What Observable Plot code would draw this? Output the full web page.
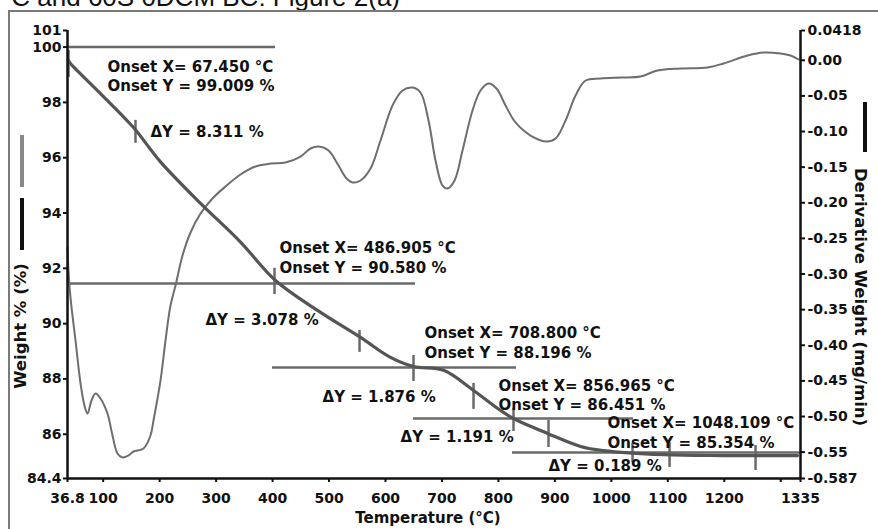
<!DOCTYPE html>
<html><head><meta charset="utf-8">
<script src="https://cdn.jsdelivr.net/npm/d3@7"></script>
<script src="https://cdn.jsdelivr.net/npm/@observablehq/plot@0.6"></script>
<style>
body{margin:0;background:#fff;}
#wrap{position:relative;width:878px;height:529px;overflow:hidden;background:#fff;font-family:"DejaVu Sans",sans-serif;}
#chart{position:absolute;left:0;top:0;}
.frame{position:absolute;left:8px;top:10px;width:900px;height:600px;border-top:2px solid #7a7a7a;border-left:2px solid #7a7a7a;}
.title{position:absolute;right:478px;top:-16px;font:26px/26px "Liberation Sans",Arial,sans-serif;white-space:nowrap;color:#111;}
.lab{position:absolute;font-weight:bold;font-size:15px;line-height:15px;white-space:nowrap;color:#111;}
.vlab{font-size:16.5px;line-height:16.5px;}
.bar{position:absolute;width:4px;}
</style></head><body>
<div id="wrap">
<div class="title">°C and 60S 0DCM BC: Figure 2(a)</div>
<div class="frame"></div>
<div id="chart"></div>
<div class="bar" style="left:20px;top:135px;height:52px;background:#8a8a8a"></div>
<div class="bar" style="left:20px;top:198px;height:52px;background:#111"></div>
<div class="bar" style="left:863px;top:102px;height:50px;background:#111"></div>
<div class="lab vlab" id="ylabL" style="left:21px;top:326px;transform:translate(-50%,-50%) rotate(-90deg)">Weight % (%)</div>
<div class="lab vlab" id="ylabR" style="left:860px;top:297px;transform:translate(-50%,-50%) rotate(90deg)">Derivative Weight (mg/min)</div>
<div class="lab" id="xlab" style="left:428px;top:511px;transform:translateX(-50%)">Temperature (°C)</div>
</div>
<script>
// ---- axes ----
const xDomain = [36.8, 1335];
const xTicks = [36.8, 100, 200, 300, 400, 500, 600, 700, 800, 900, 1000, 1100, 1200, 1300, 1335];
const xTickLabels = ["36.8", "100", "200", "300", "400", "500", "600", "700", "800", "900", "1000", "1100", "1200", "", "1335"];
const wDomain = [84.4, 100.6];
const wTicks = [84.4, 86, 88, 90, 92, 94, 96, 98, 100, 100.6];
const wTickLabels = ["84.4", "86", "88", "90", "92", "94", "96", "98", "100", "101"];
const dDomain = [-0.587, 0.0418];
const dTicks = [0.0418, 0.00, -0.05, -0.10, -0.15, -0.20, -0.25, -0.30, -0.35, -0.40, -0.45, -0.50, -0.55, -0.587];
const dTickLabels = ["0.0418", "0.00", "-0.05", "-0.10", "-0.15", "-0.20", "-0.25", "-0.30", "-0.35", "-0.40", "-0.45", "-0.50", "-0.55", "-0.587"];

// ---- weight curve (Temperature °C, Weight %) ----
const weightT = [38.6, 42.1, 95.2, 153.7, 201.5, 272.4, 343.2, 405.2, 479.6, 555.8, 608.9, 649.6, 702.8, 755.9, 803.7, 826.7, 887.0, 945.4, 986.2, 1092.5, 1200, 1329.8];
const weightW = [99.52, 99.41, 98.32, 97.09, 95.85, 94.35, 92.95, 91.56, 90.48, 89.50, 88.78, 88.45, 88.31, 87.58, 86.86, 86.57, 86.03, 85.56, 85.41, 85.26, 85.23, 85.23];

// ---- derivative curve (Temperature °C, mg/min) ----
const derivT = [36.8, 38.6, 42.1, 51.0, 59.9, 66.9, 72.2, 79.3, 86.4, 95.2, 107.6, 116.5, 125.3, 134.2, 144.8, 153.7, 171.4, 183.8, 189.1, 201.5, 210.4, 219.2, 228.1, 240.5, 254.7, 272.4, 293.6, 316.6, 343.2, 369.8, 396.4, 422.9, 449.5, 467.2, 481.4, 499.1, 516.8, 531.0, 541.6, 555.8, 573.5, 591.2, 612.4, 630.2, 647.9, 662.0, 676.2, 688.6, 701.0, 709.9, 722.3, 736.4, 754.1, 768.3, 782.5, 796.6, 812.6, 830.3, 856.9, 885.2, 901.2, 918.9, 936.6, 954.3, 980.9, 1016.3, 1051.7, 1081.8, 1122.5, 1170.4, 1198.7, 1241.2, 1269.5, 1299.6, 1317.4, 1331.5];
const derivD = [-0.2628, -0.2951, -0.3330, -0.3933, -0.4537, -0.4846, -0.4958, -0.4775, -0.4677, -0.4747, -0.4958, -0.5266, -0.5519, -0.5575, -0.5547, -0.5491, -0.5449, -0.5266, -0.5056, -0.4495, -0.3933, -0.3442, -0.3161, -0.2740, -0.2417, -0.2151, -0.1940, -0.1772, -0.1603, -0.1491, -0.1449, -0.1435, -0.1351, -0.1238, -0.1210, -0.1266, -0.1477, -0.1659, -0.1715, -0.1687, -0.1519, -0.1126, -0.0635, -0.0424, -0.0382, -0.0452, -0.0845, -0.1407, -0.1758, -0.1800, -0.1687, -0.1266, -0.0705, -0.0424, -0.0326, -0.0396, -0.0635, -0.0873, -0.1056, -0.1140, -0.1098, -0.0845, -0.0494, -0.0284, -0.0256, -0.0242, -0.0228, -0.0143, -0.0115, -0.0101, -0.0045, 0.0067, 0.0109, 0.0095, 0.0067, 0.0011];

// ---- onset baselines ----
const onsetW = [100.0, 91.45, 88.41, 86.57, 85.34];
const onsetX1 = [36.8, 36.8, 399.9, 649.6, 825.0];
const onsetX2 = [405.2, 653.2, 832.0, 1039.3, 1335];

// ---- step markers (vertical ticks) ----
const markT = [38.6, 157.2, 403.4, 554.0, 649.6, 755.9, 826.7, 888.7, 1037.5, 1103.1, 1255.4];
const markW1 = [99.88, 97.35, 92.00, 89.75, 88.85, 87.84, 86.93, 86.50, 85.67, 85.70, 85.59];
const markW2 = [98.90, 96.52, 91.05, 88.96, 87.91, 86.90, 86.10, 85.52, 84.98, 84.80, 84.69];

// ---- annotation texts ----
const noteText = ["Onset X= 67.450 °C", "Onset Y = 99.009 %", "ΔY = 8.311 %",
  "Onset X= 486.905 °C", "Onset Y = 90.580 %", "ΔY = 3.078 %",
  "Onset X= 708.800 °C", "Onset Y = 88.196 %", "ΔY = 1.876 %",
  "Onset X= 856.965 °C", "Onset Y = 86.451 %", "ΔY = 1.191 %",
  "Onset X= 1048.109 °C", "Onset Y = 85.354 %", "ΔY = 0.189 %"];
const noteT = [107.6, 107.6, 183.8, 412.3, 412.3, 281.2, 669.1, 669.1, 488.5, 800.2, 800.2, 626.6, 993.3, 993.3, 888.7];
const noteW = [99.26, 98.57, 96.91, 92.72, 91.99, 90.11, 89.64, 88.92, 87.33, 87.73, 87.04, 85.88, 86.39, 85.67, 84.83];

// derivative -> weight-axis mapping for the dual axis
const toW = d3.scaleLinear().domain(dDomain).range(wDomain);
const dTicksW = dTicks.map(toW);

const weight = weightT.map((t, i) => ({t, w: weightW[i]}));
const deriv = derivT.map((t, i) => ({t, w: toW(derivD[i])}));
const onsets = onsetW.map((w, i) => ({w, x1: onsetX1[i], x2: onsetX2[i]}));
const marks = markT.map((t, i) => ({t, y1: markW1[i], y2: markW2[i]}));
const notes = noteText.map((s, i) => ({s, t: noteT[i], w: noteW[i]}));

const chart = Plot.plot({
  width: 878, height: 529,
  marginLeft: 67, marginRight: 78, marginTop: 30, marginBottom: 51,
  style: {fontFamily: "DejaVu Sans", fontSize: "14px", fontWeight: "bold", background: "transparent", color: "#111", overflow: "visible"},
  x: {domain: xDomain},
  y: {domain: wDomain},
  marks: [
    Plot.axisX({ticks: xTicks, tickFormat: d => xTickLabels[xTicks.indexOf(d)], tickSize: 4, tickPadding: 11, label: null, strokeWidth: 2}),
    Plot.axisY({anchor: "left", ticks: wTicks, tickFormat: d => wTickLabels[wTicks.indexOf(d)], tickSize: 4, tickPadding: 2, label: null, strokeWidth: 2}),
    Plot.axisY({anchor: "right", ticks: dTicksW, tickFormat: d => dTickLabels[dTicksW.indexOf(d)], tickSize: 4, tickPadding: 3, label: null, strokeWidth: 2}),
    Plot.ruleY(onsets, {y: "w", x1: "x1", x2: "x2", stroke: "#6a6a6a", strokeWidth: 2.5}),
    Plot.ruleX(marks, {x: "t", y1: "y1", y2: "y2", stroke: "#6a6a6a", strokeWidth: 2.5}),
    Plot.line(deriv, {x: "t", y: "w", curve: "catmull-rom", stroke: "#6e6e6e", strokeWidth: 2}),
    Plot.line(weight, {x: "t", y: "w", curve: "catmull-rom", stroke: "#555", strokeWidth: 3.2}),
    Plot.text(notes, {x: "t", y: "w", text: "s", textAnchor: "start", fontSize: 15, fontWeight: "bold", fill: "#111"}),
    Plot.ruleY([wDomain[0]], {x1: xDomain[0], x2: xDomain[1], stroke: "#111", strokeWidth: 2.5}),
    Plot.ruleX([xDomain[0]], {y1: wDomain[0], y2: wDomain[1], stroke: "#111", strokeWidth: 2.5}),
    Plot.ruleX([xDomain[1]], {y1: wDomain[0], y2: wDomain[1], stroke: "#111", strokeWidth: 2.5})
  ]
});
document.getElementById("chart").appendChild(chart);
</script>
</body></html>
